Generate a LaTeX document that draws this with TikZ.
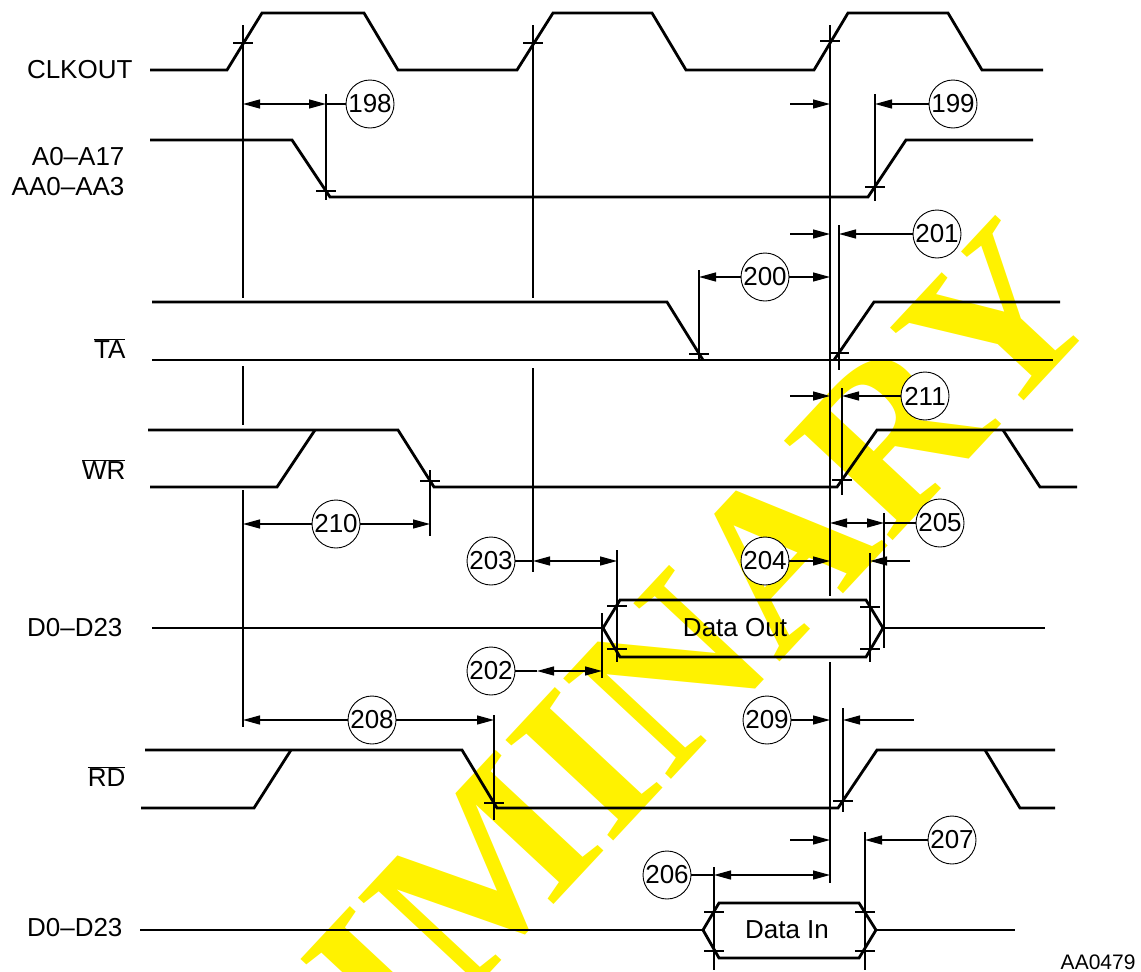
\documentclass[tikz,border=0pt]{standalone}
\usepackage{fontspec}
\setmainfont{Liberation Sans}
\newfontfamily\wmfam{Liberation Serif}
\usepackage{tikz}
\usetikzlibrary{arrows.meta, positioning}
\newcommand{\ovl}[1]{$\overline{\mbox{#1}}$}

\begin{document}
\begin{tikzpicture}[
    x=1pt, y=-1pt,
    sig/.style={line width=2.8pt},
    thin/.style={line width=1.3pt},
    dim/.style={thin, -{Triangle[length=17pt, width=9pt]}},
    dimb/.style={thin, {Triangle[length=17pt, width=9pt]}-{Triangle[length=17pt, width=9pt]}},
    num/.style={circle, draw, line width=0.9pt, fill=white, minimum size=48pt, inner sep=0pt},
    siglab/.style={anchor=east, align=right},
    every node/.append style={font=\fontsize{26}{30}\selectfont}
]
    \useasboundingbox (0,0) rectangle (1141,972);

    % Watermark
    \begin{scope}
        \clip (0,0) rectangle (1141,972);
        \node[text=yellow, rotate=47, font=\wmfam\bfseries\fontsize{225}{225}\selectfont] (wm) at (496,858) {PRELIMINARY};
    \end{scope}

    % Signal names
    \node[siglab] (lclk) at (136,70)  {CLKOUT};
    \node[siglab] (ladr) at (128,172) {A0–A17\\AA0–AA3};
    \node[siglab] (lta)  at (129,349) {\ovl{TA}};
    \node[siglab] (lwr)  at (129,470) {\ovl{WR}};
    \node[siglab] (ldo)  at (126,628) {D0–D23};
    \node[siglab] (lrd)  at (129,777) {\ovl{RD}};
    \node[siglab] (ldi)  at (126,928) {D0–D23};

    % Waveforms
    \draw[sig] (150,70) -- (227,70) -- (262,13) -- (364,13) -- (398,70) -- (517,70) -- (553,13) -- (652,13) -- (686,70) -- (814,70) -- (848,13) -- (948,13) -- (982,70) -- (1043,70);
    \draw[sig] (150,140) -- (292,140) -- (330,197) -- (868,197) -- (906,140) -- (1033,140);
    \draw[sig] (152,302) -- (667,302) -- (703,360);
    \draw[sig] (152,360) -- (1053,360);
    \draw[sig] (834,360) -- (874,302) -- (1060,302);
    \draw[sig] (148,430) -- (398,430) -- (434,487) -- (837,487) -- (877,430) -- (1073,430);
    \draw[sig] (150,487) -- (277,487) -- (315,430);
    \draw[sig] (1003,430) -- (1040,487) -- (1077,487);
    \draw[sig] (152,628) -- (603,628);
    \draw[sig] (603,628) -- (620,600) -- (866,600) -- (883,628) -- (866,657) -- (620,657) -- cycle;
    \draw[sig] (883,628) -- (1045,628);
    \draw[sig] (145,750) -- (462,750) -- (497,808) -- (838,808) -- (877,750) -- (1055,750);
    \draw[sig] (141,808) -- (254,808) -- (291,750);
    \draw[sig] (985,750) -- (1020,808) -- (1055,808);
    \draw[sig] (140,930) -- (703,930);
    \draw[sig] (703,930) -- (719,903) -- (859,903) -- (876,930) -- (859,958) -- (719,958) -- cycle;
    \draw[sig] (876,930) -- (1015,930);
    \node (dout) at (735,628) {Data Out};
    \node (din)  at (787,930) {Data In};

    % Reference lines
    \draw[thin] (243,25) -- (243,298)  (243,366) -- (243,425)  (243,490) -- (243,727);
    \draw[thin] (533,25) -- (533,298)  (533,368) -- (533,572);
    \draw[thin] (830,25) -- (830,596)  (830,662) -- (830,883);
    \draw[thin] (326,94) -- (326,200);
    \draw[thin] (875,94) -- (875,201);
    \draw[thin] (839,225) -- (839,370);
    \draw[thin] (699,270) -- (699,360);
    \draw[thin] (842,388) -- (842,495);
    \draw[thin] (430,470) -- (430,536);
    \draw[thin] (617,550) -- (617,662);
    \draw[thin] (602,613) -- (602,678);
    \draw[thin] (870,553) -- (870,662);
    \draw[thin] (884,513) -- (884,648);
    \draw[thin] (494,715) -- (494,820);
    \draw[thin] (843,708) -- (843,812);
    \draw[thin] (714,867) -- (714,970);
    \draw[thin] (865,832) -- (865,970);

    % Crossing ticks
    \foreach \x/\y in {243/43, 533/43, 830/41, 326/191, 875/187, 699/354, 839/353,
                       430/481, 842/480, 617/606, 617/649, 870/607, 870/649,
                       494/803, 843/801, 714/912, 714/951, 865/912, 865/951}
        \draw[thin] (\x-10,\y) -- (\x+10,\y);

    % Timing numbers
    \node[num] (c198) at (370,104) {198};
    \node[num] (c199) at (953,104) {199};
    \node[num] (c200) at (765,277) {200};
    \node[num] (c201) at (937,234) {201};
    \node[num] (c211) at (925,396) {211};
    \node[num] (c210) at (336,524) {210};
    \node[num] (c205) at (940,523) {205};
    \node[num] (c203) at (491,561) {203};
    \node[num] (c204) at (765,561) {204};
    \node[num] (c202) at (491,671) {202};
    \node[num] (c208) at (372,720) {208};
    \node[num] (c209) at (767,720) {209};
    \node[num] (c207) at (952,840) {207};
    \node[num] (c206) at (667,875) {206};

    % Timing arrows
    \draw[dimb] (243,104) -- (326,104);
    \draw[thin] (326,104) -- (c198);
    \draw[dim] (790,104) -- (830,104);
    \draw[dim] (c199) -- (875,104);
    \draw[dim] (790,234) -- (830,234);
    \draw[dim] (c201) -- (839,234);
    \draw[dim] (c200) -- (699,277);
    \draw[dim] (c200) -- (830,277);
    \draw[dim] (790,396) -- (830,396);
    \draw[dim] (c211) -- (842,396);
    \draw[dim] (c210) -- (243,524);
    \draw[dim] (c210) -- (430,524);
    \draw[dimb] (830,523) -- (884,523);
    \draw[thin] (884,523) -- (c205);
    \draw[thin] (c203) -- (533,561);
    \draw[dimb] (533,561) -- (617,561);
    \draw[dim] (c204) -- (830,561);
    \draw[dim] (910,561) -- (870,561);
    \draw[thin] (c202) -- (537,671);
    \draw[dimb] (537,671) -- (602,671);
    \draw[dim] (c208) -- (243,720);
    \draw[dim] (c208) -- (494,720);
    \draw[dim] (c209) -- (830,720);
    \draw[dim] (914,720) -- (843,720);
    \draw[dim] (790,840) -- (830,840);
    \draw[dim] (c207) -- (865,840);
    \draw[thin] (c206) -- (714,875);
    \draw[dimb] (714,875) -- (830,875);

    \node[anchor=base east, font=\fontsize{21}{24}\selectfont] (fig) at (1139,969) {AA0479};
\end{tikzpicture}
\end{document}
